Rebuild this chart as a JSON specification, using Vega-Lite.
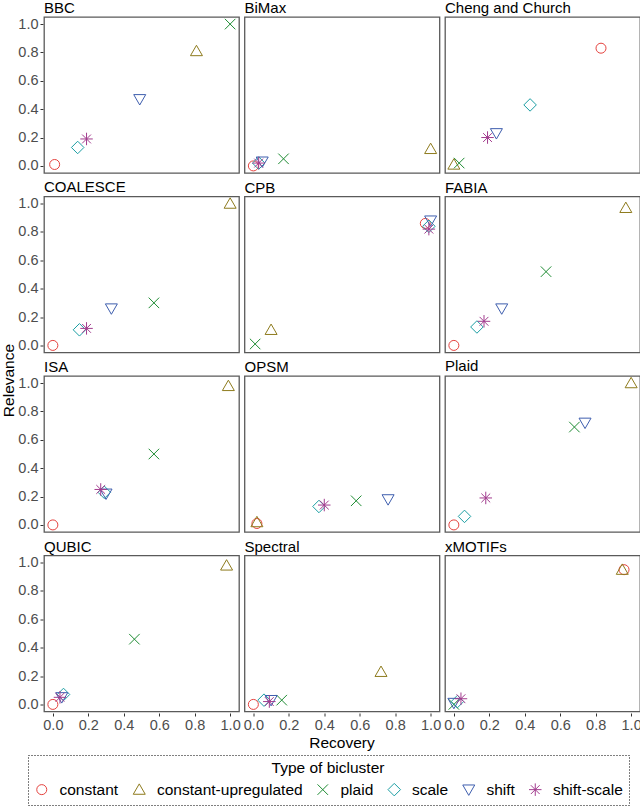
{
  "$schema": "https://vega.github.io/schema/vega-lite/v6.json",
  "padding": {"left": 0, "top": 0, "right": 0, "bottom": 0},
  "spacing": 0,
  "hconcat": [
    {
      "width": 17,
      "height": 727,
      "data": {"values": [{"t": "Relevance"}]},
      "view": {"stroke": null},
      "mark": {"type": "text", "angle": 270, "fontSize": 15.5, "color": "#000", "font": "Liberation Sans", "baseline": "middle", "align": "center"},
      "encoding": {"text": {"field": "t", "type": "nominal"}}
    },
    {
      "data": {"values": [
        {"method": "BBC", "type": "constant", "recovery": 0.01, "relevance": 0.01},
        {"method": "BBC", "type": "constant-upregulated", "recovery": 0.81, "relevance": 0.81},
        {"method": "BBC", "type": "plaid", "recovery": 1.0, "relevance": 1.0},
        {"method": "BBC", "type": "scale", "recovery": 0.14, "relevance": 0.13},
        {"method": "BBC", "type": "shift", "recovery": 0.49, "relevance": 0.47},
        {"method": "BBC", "type": "shift-scale", "recovery": 0.19, "relevance": 0.19},
        {"method": "BiMax", "type": "constant", "recovery": 0.0, "relevance": 0.0},
        {"method": "BiMax", "type": "constant-upregulated", "recovery": 1.0, "relevance": 0.12},
        {"method": "BiMax", "type": "plaid", "recovery": 0.17, "relevance": 0.05},
        {"method": "BiMax", "type": "scale", "recovery": 0.03, "relevance": 0.02},
        {"method": "BiMax", "type": "shift", "recovery": 0.05, "relevance": 0.03},
        {"method": "BiMax", "type": "shift-scale", "recovery": 0.03, "relevance": 0.02},
        {"method": "Cheng and Church", "type": "constant", "recovery": 0.83, "relevance": 0.83},
        {"method": "Cheng and Church", "type": "constant-upregulated", "recovery": 0.0, "relevance": 0.01},
        {"method": "Cheng and Church", "type": "plaid", "recovery": 0.03, "relevance": 0.02},
        {"method": "Cheng and Church", "type": "scale", "recovery": 0.43, "relevance": 0.43},
        {"method": "Cheng and Church", "type": "shift", "recovery": 0.24, "relevance": 0.23},
        {"method": "Cheng and Church", "type": "shift-scale", "recovery": 0.19, "relevance": 0.2},
        {"method": "COALESCE", "type": "constant", "recovery": 0.0, "relevance": 0.0},
        {"method": "COALESCE", "type": "constant-upregulated", "recovery": 1.0, "relevance": 1.0},
        {"method": "COALESCE", "type": "plaid", "recovery": 0.57, "relevance": 0.3},
        {"method": "COALESCE", "type": "scale", "recovery": 0.15, "relevance": 0.11},
        {"method": "COALESCE", "type": "shift", "recovery": 0.33, "relevance": 0.26},
        {"method": "COALESCE", "type": "shift-scale", "recovery": 0.19, "relevance": 0.12},
        {"method": "CPB", "type": "constant", "recovery": 0.97, "relevance": 0.86},
        {"method": "CPB", "type": "constant-upregulated", "recovery": 0.1, "relevance": 0.11},
        {"method": "CPB", "type": "plaid", "recovery": 0.01, "relevance": 0.01},
        {"method": "CPB", "type": "scale", "recovery": 0.99, "relevance": 0.84},
        {"method": "CPB", "type": "shift", "recovery": 1.0, "relevance": 0.88},
        {"method": "CPB", "type": "shift-scale", "recovery": 0.99, "relevance": 0.82},
        {"method": "FABIA", "type": "constant", "recovery": 0.0, "relevance": 0.0},
        {"method": "FABIA", "type": "constant-upregulated", "recovery": 0.97, "relevance": 0.97},
        {"method": "FABIA", "type": "plaid", "recovery": 0.52, "relevance": 0.52},
        {"method": "FABIA", "type": "scale", "recovery": 0.13, "relevance": 0.13},
        {"method": "FABIA", "type": "shift", "recovery": 0.27, "relevance": 0.26},
        {"method": "FABIA", "type": "shift-scale", "recovery": 0.17, "relevance": 0.17},
        {"method": "ISA", "type": "constant", "recovery": 0.0, "relevance": 0.0},
        {"method": "ISA", "type": "constant-upregulated", "recovery": 0.99, "relevance": 0.98},
        {"method": "ISA", "type": "plaid", "recovery": 0.57, "relevance": 0.5},
        {"method": "ISA", "type": "scale", "recovery": 0.29, "relevance": 0.23},
        {"method": "ISA", "type": "shift", "recovery": 0.3, "relevance": 0.22},
        {"method": "ISA", "type": "shift-scale", "recovery": 0.27, "relevance": 0.25},
        {"method": "OPSM", "type": "constant", "recovery": 0.02, "relevance": 0.01},
        {"method": "OPSM", "type": "constant-upregulated", "recovery": 0.02, "relevance": 0.02},
        {"method": "OPSM", "type": "plaid", "recovery": 0.58, "relevance": 0.17},
        {"method": "OPSM", "type": "scale", "recovery": 0.37, "relevance": 0.13},
        {"method": "OPSM", "type": "shift", "recovery": 0.76, "relevance": 0.18},
        {"method": "OPSM", "type": "shift-scale", "recovery": 0.4, "relevance": 0.14},
        {"method": "Plaid", "type": "constant", "recovery": 0.0, "relevance": 0.0},
        {"method": "Plaid", "type": "constant-upregulated", "recovery": 1.0, "relevance": 1.0},
        {"method": "Plaid", "type": "plaid", "recovery": 0.68, "relevance": 0.69},
        {"method": "Plaid", "type": "scale", "recovery": 0.06, "relevance": 0.06},
        {"method": "Plaid", "type": "shift", "recovery": 0.74, "relevance": 0.72},
        {"method": "Plaid", "type": "shift-scale", "recovery": 0.18, "relevance": 0.19},
        {"method": "QUBIC", "type": "constant", "recovery": 0.0, "relevance": 0.0},
        {"method": "QUBIC", "type": "constant-upregulated", "recovery": 0.98, "relevance": 0.98},
        {"method": "QUBIC", "type": "plaid", "recovery": 0.46, "relevance": 0.46},
        {"method": "QUBIC", "type": "scale", "recovery": 0.06, "relevance": 0.07},
        {"method": "QUBIC", "type": "shift", "recovery": 0.05, "relevance": 0.05},
        {"method": "QUBIC", "type": "shift-scale", "recovery": 0.04, "relevance": 0.05},
        {"method": "Spectral", "type": "constant", "recovery": 0.0, "relevance": 0.0},
        {"method": "Spectral", "type": "constant-upregulated", "recovery": 0.72, "relevance": 0.23},
        {"method": "Spectral", "type": "plaid", "recovery": 0.16, "relevance": 0.03},
        {"method": "Spectral", "type": "scale", "recovery": 0.06, "relevance": 0.03},
        {"method": "Spectral", "type": "shift", "recovery": 0.1, "relevance": 0.03},
        {"method": "Spectral", "type": "shift-scale", "recovery": 0.09, "relevance": 0.02},
        {"method": "xMOTIFs", "type": "constant", "recovery": 0.96, "relevance": 0.95},
        {"method": "xMOTIFs", "type": "constant-upregulated", "recovery": 0.95, "relevance": 0.95},
        {"method": "xMOTIFs", "type": "plaid", "recovery": 0.0, "relevance": 0.0},
        {"method": "xMOTIFs", "type": "scale", "recovery": 0.02, "relevance": 0.02},
        {"method": "xMOTIFs", "type": "shift", "recovery": 0.0, "relevance": 0.01},
        {"method": "xMOTIFs", "type": "shift-scale", "recovery": 0.04, "relevance": 0.04}
      ]},
      "facet": {
        "field": "method",
        "type": "nominal",
        "sort": ["BBC", "BiMax", "Cheng and Church", "COALESCE", "CPB", "FABIA", "ISA", "OPSM", "Plaid", "QUBIC", "Spectral", "xMOTIFs"],
        "header": {"title": "Recovery", "titleOrient": "bottom", "titleFontSize": 15.5, "titleFontWeight": "normal", "titleColor": "#000", "titleFont": "Liberation Sans", "titlePadding": 4,
          "labelAnchor": "start", "labelFontSize": 15, "labelColor": "#000", "labelFont": "Liberation Sans", "labelPadding": 1}
      },
      "columns": 3,
      "spacing": {"column": 3.5, "row": 4.5},
      "spec": {
        "width": 195,
        "height": 156,
        "mark": {"type": "point", "filled": false, "size": 100, "strokeWidth": 1, "opacity": 1},
        "encoding": {
          "x": {"field": "recovery", "type": "quantitative", "title": null,
            "scale": {"domain": [-0.05, 1.05], "nice": false, "zero": false},
            "axis": {"values": [0, 0.2, 0.4, 0.6, 0.8, 1.0], "format": ".1f"}},
          "y": {"field": "relevance", "type": "quantitative", "title": null,
            "scale": {"domain": [-0.05, 1.05], "nice": false, "zero": false},
            "axis": {"values": [0, 0.2, 0.4, 0.6, 0.8, 1.0], "format": ".1f"}},
          "color": {"field": "type", "type": "nominal", "title": "Type of bicluster",
            "legend": {"orient": "none", "legendX": 28, "legendY": 738},
            "scale": {"domain": ["constant", "constant-upregulated", "plaid", "scale", "shift", "shift-scale"],
              "range": ["#E5433F", "#8E7B1D", "#1E8C33", "#1A9EA3", "#3E5EAE", "#A23C8E"]}},
          "shape": {"field": "type", "type": "nominal", "title": "Type of bicluster",
            "legend": {"orient": "none", "legendX": 28, "legendY": 738},
            "scale": {"domain": ["constant", "constant-upregulated", "plaid", "scale", "shift", "shift-scale"],
              "range": ["circle",
                "M0,-1.15L1.2,0.93L-1.2,0.93Z",
                "M-1.05,-1.05L1.05,1.05M-1.05,1.05L1.05,-1.05",
                "M0,-1.25L1.25,0L0,1.25L-1.25,0Z",
                "M0,1.15L1.2,-0.93L-1.2,-0.93Z",
                "M-1.25,0L1.25,0M0,-1.25L0,1.25M-0.88,-0.88L0.88,0.88M-0.88,0.88L0.88,-0.88"]}}
        }
      }
    }
  ],
  "config": {
    "font": "Liberation Sans",
    "view": {"stroke": "#5a5a5a", "strokeWidth": 1.3},
    "axis": {"grid": false, "domain": false, "tickColor": "#333", "tickSize": 3, "labelColor": "#4d4d4d", "labelFontSize": 14.5, "labelFont": "Liberation Sans", "labelPadding": 2, "labelFlush": false, "labelOverlap": false, "labelBound": false},
    "legend": {"direction": "horizontal", "titleAnchor": "middle", "titleFontSize": 15.5, "titleFontWeight": "normal", "titleColor": "#000", "titleFont": "Liberation Sans", "titlePadding": 5, "labelFontSize": 15.5, "labelColor": "#000", "labelFont": "Liberation Sans", "symbolSize": 100, "symbolStrokeWidth": 1, "strokeColor": "#000", "strokeDash": [1, 2], "padding": 6, "columnPadding": 11.5, "labelOffset": 10}
  }
}
